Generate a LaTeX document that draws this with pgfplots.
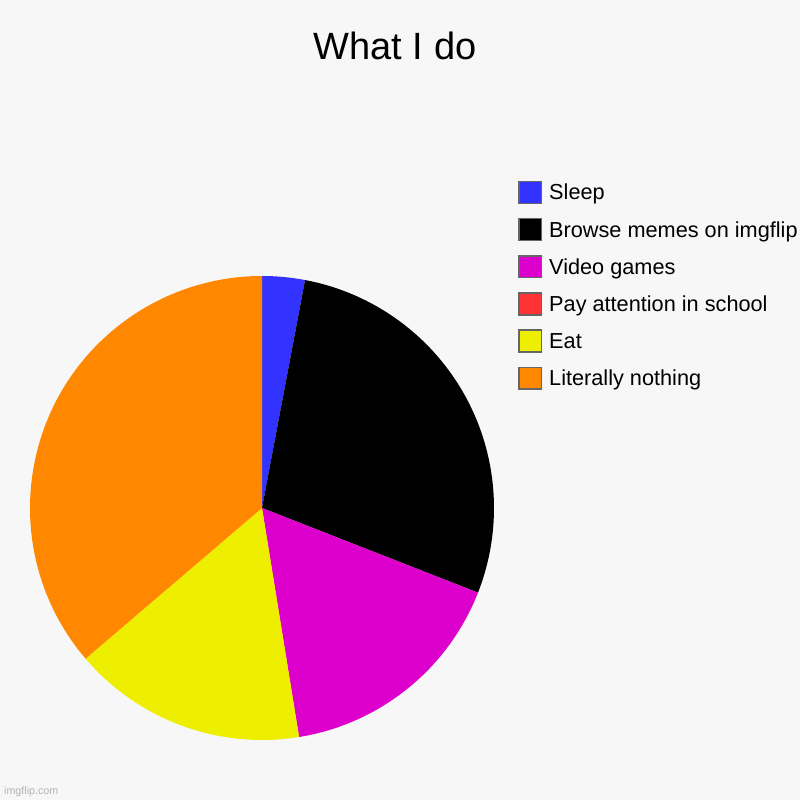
\documentclass[border=0pt]{standalone}
\usepackage{fontspec}
\setmainfont{Liberation Sans}
\usepackage{pgfplots}
\usepackage{pgfplotstable}
\pgfplotsset{compat=1.18}

\definecolor{bgc}{HTML}{F7F7F7}
\definecolor{csleep}{HTML}{3333FF}
\definecolor{cmemes}{HTML}{000000}
\definecolor{cgames}{HTML}{DD00CC}
\definecolor{cschool}{HTML}{FF3333}
\definecolor{ceat}{HTML}{EEEE00}
\definecolor{cnothing}{HTML}{FF8800}
\definecolor{lgray}{HTML}{666666}

% slices clockwise from 12 o'clock (values read as degrees)
\pgfplotstableread{
label                       value  color
Sleep                       10.7   csleep
{Browse memes on imgflip}   100.7  cmemes
{Video games}               59.4   cgames
{Pay attention in school}   0      cschool
Eat                         58.7   ceat
{Literally nothing}         130.5  cnothing
}\piedata

\begin{document}
\begin{tikzpicture}
\fill[bgc] (0,0) rectangle (800pt,800pt);
\useasboundingbox (0,0) rectangle (800pt,800pt);

\pgfmathsetmacro\total{0}
\pgfplotsforeachungrouped \i in {0,...,5}{%
  \pgfplotstablegetelem{\i}{value}\of\piedata
  \pgfmathsetmacro\total{\total+\pgfplotsretval}%
}

\begin{axis}[
    at={(0,0)}, anchor=south west,
    width=800pt, height=800pt, scale only axis,
    xmin=0, xmax=800, ymin=0, ymax=800,
    hide axis, clip=false,
    legend cell align=left,
    legend image code/.code={%
      \draw[#1, line width=1.5pt] (0.75pt,-3.4pt) rectangle (23.65pt,18.4pt);},
    legend style={
      at={(0.6475,0.774)}, anchor=north west,
      draw=none, fill=none, inner sep=0pt, outer sep=0pt,
      font=\fontsize{21.7}{25}\selectfont,
      cells={anchor=base west},
      nodes={inner sep=0pt, text height=16pt, text depth=5pt},
      row sep=13pt, column sep=6.8pt,
    },
]
\def\cum{0}
\pgfplotsforeachungrouped \i in {0,...,5}{%
  \pgfplotstablegetelem{\i}{value}\of\piedata \let\v\pgfplotsretval
  \pgfplotstablegetelem{\i}{color}\of\piedata \let\c\pgfplotsretval
  \pgfplotstablegetelem{\i}{label}\of\piedata \let\l\pgfplotsretval
  \pgfmathsetmacro\a{90-\cum/\total*360}%
  \pgfmathsetmacro\cum{\cum+\v}%
  \pgfmathsetmacro\b{90-\cum/\total*360}%
  \edef\temp{%
    \noexpand\fill[\c] (axis cs:262,292) -- ++(\a:232pt)
      arc[start angle=\a, end angle=\b, radius=232pt] -- cycle;
    \noexpand\addlegendimage{fill=\c, draw=lgray}
    \noexpand\addlegendentry{\l}}%
  \temp
}

\node[anchor=base, font=\fontsize{38}{44}\selectfont] at (axis cs:395,740) {What I do};
\node[anchor=base west, text=black!30, inner sep=0pt, font=\fontsize{10.7}{12}\selectfont] at (axis cs:4,6) {imgflip.com};
\end{axis}
\end{tikzpicture}
\end{document}
